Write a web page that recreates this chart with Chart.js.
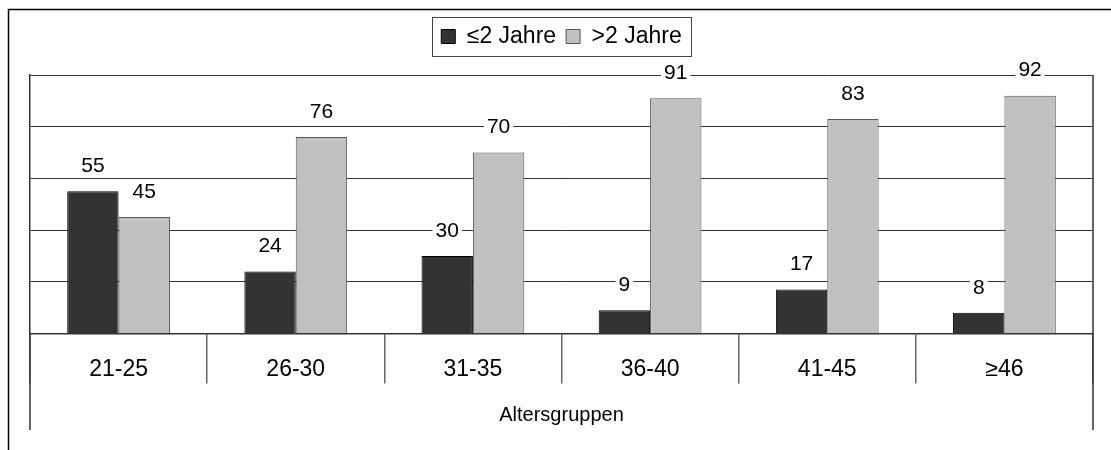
<!DOCTYPE html>
<html>
<head>
<meta charset="utf-8">
<script src="https://cdn.jsdelivr.net/npm/chart.js@4"></script>
<style>
  html, body { margin: 0; padding: 0; background: #fff; }
  #wrap { width: 1111px; height: 450px; }
</style>
</head>
<body>
<div id="wrap"><canvas id="chart"></canvas></div>
<script>
var groups = ["21-25", "26-30", "31-35", "36-40", "41-45", "\u226546"];
var upToTwo = [55, 24, 30, 9, 17, 8];
var overTwo = [45, 76, 70, 91, 83, 92];
var seriesNames = ["\u22642 Jahre", ">2 Jahre"];
var axisTitle = "Altersgruppen";

var FONT = "'Liberation Sans', Arial, sans-serif";
Chart.defaults.font.family = FONT;
Chart.defaults.color = "#000";

// outer frame, right border of the plot, side lines of the axis box, legend box
var frame = {
  id: 'frame',
  beforeDraw: function (chart) {
    var ctx = chart.ctx;
    ctx.save();
    ctx.strokeStyle = '#000';
    ctx.lineWidth = 1.5;
    ctx.beginPath();
    ctx.moveTo(8.5, 450);
    ctx.lineTo(8.5, 9.5);
    ctx.lineTo(1111, 9.5);
    ctx.stroke();
    ctx.restore();
  },
  afterDraw: function (chart) {
    var ctx = chart.ctx, a = chart.chartArea, xs = chart.scales.x;
    ctx.save();
    ctx.strokeStyle = '#333';
    ctx.lineWidth = 1.5;
    ctx.beginPath();
    ctx.moveTo(a.right, a.top);
    ctx.lineTo(a.right, xs.bottom);
    ctx.moveTo(a.left, a.bottom);
    ctx.lineTo(a.left, xs.bottom);
    ctx.stroke();

    var boxes = chart.legend.legendHitBoxes;
    if (boxes && boxes.length) {
      var first = boxes[0], last = boxes[boxes.length - 1];
      var l = first.left - 9, r = last.left + last.width + 10;
      var t = first.top - 8, b = first.top + first.height + 8;
      ctx.strokeStyle = '#444';
      ctx.lineWidth = 1;
      ctx.strokeRect(Math.round(l) + 0.5, Math.round(t) + 0.5, Math.round(r - l), Math.round(b - t));
    }
    ctx.restore();
  }
};

// value labels above the bars, on a white patch
var valueLabels = {
  id: 'valueLabels',
  afterDatasetsDraw: function (chart) {
    var ctx = chart.ctx;
    ctx.save();
    ctx.font = '21px ' + FONT;
    ctx.textAlign = 'center';
    ctx.textBaseline = 'middle';
    chart.data.datasets.forEach(function (ds, i) {
      chart.getDatasetMeta(i).data.forEach(function (bar, j) {
        var txt = String(ds.data[j]);
        var w = ctx.measureText(txt).width + 6;
        var y = bar.y - 25;
        ctx.fillStyle = '#fff';
        ctx.fillRect(bar.x - w / 2, y - 11, w, 22);
        ctx.fillStyle = '#000';
        ctx.fillText(txt, bar.x, y);
      });
    });
    ctx.restore();
  }
};

new Chart(document.getElementById('chart'), {
  type: 'bar',
  data: {
    labels: groups,
    datasets: [{
      label: seriesNames[0],
      data: upToTwo,
      backgroundColor: '#333333',
      borderColor: '#000000',
      borderWidth: 1
    }, {
      label: seriesNames[1],
      data: overTwo,
      backgroundColor: '#c0c0c0',
      borderColor: '#555555',
      borderWidth: 1
    }]
  },
  options: {
    responsive: true,
    maintainAspectRatio: false,
    animation: false,
    events: [],
    barPercentage: 1.0,
    categoryPercentage: 0.58,
    layout: {
      padding: { left: 30, right: 18, top: 15, bottom: 20 }
    },
    plugins: {
      legend: {
        position: 'top',
        weight: 3000,
        labels: {
          boxWidth: 14,
          boxHeight: 14,
          padding: 10,
          color: '#000',
          font: { size: 23 }
        }
      },
      // empty title only keeps the gap between legend and plot
      title: {
        display: true,
        text: '',
        padding: 0,
        font: { size: 17, lineHeight: 1 }
      },
      tooltip: { enabled: false }
    },
    scales: {
      x: {
        grid: {
          display: true,
          offset: true,
          drawOnChartArea: false,
          drawTicks: true,
          tickLength: 50,
          color: '#666',
          lineWidth: 1.5
        },
        border: { display: true, color: '#333', width: 1.5 },
        ticks: {
          font: { size: 23 },
          padding: -28,
          color: '#000'
        },
        title: {
          display: true,
          text: axisTitle,
          color: '#000',
          font: { size: 20 },
          padding: { top: 48, bottom: 3 }
        }
      },
      y: {
        min: 0,
        max: 100,
        ticks: { display: false, stepSize: 20 },
        grid: { drawTicks: false, color: '#333', lineWidth: 1 },
        border: { display: true, color: '#333', width: 1.5 }
      }
    }
  },
  plugins: [frame, valueLabels]
});
</script>
</body>
</html>
